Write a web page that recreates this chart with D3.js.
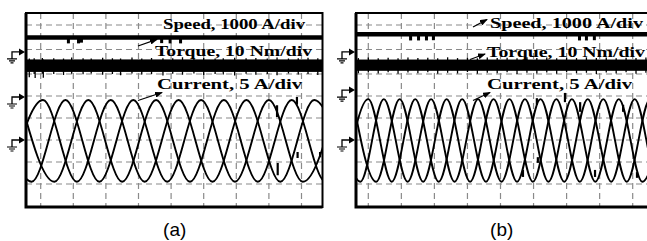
<!DOCTYPE html>
<html>
<head>
<meta charset="utf-8">
<script src="https://cdn.jsdelivr.net/npm/d3@7"></script>
<style>
  body { margin: 0; background: #fff; }
</style>
</head>
<body>
<div id="chart"></div>
<script>
// ---- data read off the two scope shots ----
// grid divisions
var gridCols = [0, 1, 2, 3, 4, 5, 6, 7, 8];
var gridRows = [-2, -1, 0, 1, 2, 3, 4, 5];
var traceLabels = ["Speed, 1000 A/div", "Torque, 10 Nm/div", "Current, 5 A/div"];
var captions = ["(a)", "(b)"];

// speed level (rpm above its ground) and short dips [t(div), rpm]
var speedA = 590;
var speedB = 720;
var speedDipsA = [[0.85, 350], [1.16, 350], [1.25, 380], [3.71, 360], [3.97, 350], [4.29, 350]];
var speedDipsB = [[1.28, 470], [1.52, 470], [1.76, 470], [1.97, 480], [6.39, 470], [6.60, 470], [6.84, 480]];

// torque band (Nm): [low, high] and spikes [t, low, high]
var torqueBandA = [11.3, 16.4];
var torqueBandB = [8.6, 13.2];
var torqueSpikesA = [[-0.35, 9.0, 16.8], [-0.2, 10.4, 16.9], [-0.17, 8.6, 16.2], [0.05, 10.6, 17.0], [0.08, 8.8, 16.4],
  [0.4, 10.4, 16.9], [0.7, 10.0, 16.8], [0.95, 10.6, 17.2], [1.3, 10.3, 16.9], [1.55, 10.7, 16.8],
  [1.9, 10.1, 17.1], [2.2, 10.5, 16.9], [2.45, 9.9, 16.8], [2.8, 10.7, 17.2], [3.1, 10.2, 16.8],
  [3.4, 10.4, 17.0], [3.75, 9.8, 16.9], [4.05, 10.6, 16.9], [4.35, 10.1, 17.3], [4.7, 10.7, 16.8],
  [5.0, 10.0, 17.0], [5.35, 10.5, 16.8], [5.6, 10.2, 16.9], [5.95, 9.8, 17.1], [6.3, 10.6, 16.9],
  [6.6, 10.1, 17.0], [6.95, 10.4, 16.8], [7.25, 9.9, 17.2], [7.6, 10.7, 16.8], [7.9, 10.2, 16.9],
  [8.2, 10.5, 17.1], [8.5, 10.0, 16.9]];
var torqueSpikesB = [[-0.3, 7.6, 13.8], [0.0, 7.9, 14.0], [0.3, 7.5, 13.7], [0.6, 8.0, 13.9], [0.9, 7.4, 13.7],
  [1.2, 7.9, 14.0], [1.5, 7.6, 13.8], [1.8, 8.0, 13.9], [2.1, 7.4, 13.7], [2.4, 7.8, 14.1],
  [2.7, 7.5, 13.8], [3.0, 8.1, 13.9], [3.3, 7.4, 13.7], [3.6, 7.8, 14.0], [3.9, 7.6, 13.8],
  [4.2, 8.0, 13.9], [4.5, 7.3, 13.7], [4.8, 7.8, 14.1], [5.1, 7.5, 13.8], [5.4, 7.9, 14.0],
  [5.7, 7.4, 13.7], [6.0, 8.0, 13.9], [6.3, 7.6, 13.8], [6.6, 7.8, 14.1], [6.9, 7.3, 13.8],
  [7.2, 7.9, 14.0], [7.5, 7.5, 13.7], [7.8, 8.0, 13.9], [8.1, 7.4, 13.8], [8.4, 7.8, 14.0]];

// phase currents (A): extrema [t(div), i]
var curA1 = [[-0.97, -9.5], [0.07, 9.1], [1.11, -9.5], [2.15, 9.1], [3.19, -9.5], [4.23, 9.1],
  [5.27, -9.5], [6.31, 9.1], [7.35, -9.5], [8.39, 9.1], [9.43, -9.5]];
var curA2 = [[-1.32, 9.1], [-0.28, -9.5], [0.76, 9.1], [1.80, -9.5], [2.84, 9.1], [3.88, -9.5],
  [4.92, 9.1], [5.96, -9.5], [7.00, 9.1], [8.04, -9.5], [9.08, 9.1]];
var curA3 = [[-0.62, 9.1], [0.42, -9.5], [1.46, 9.1], [2.50, -9.5], [3.54, 9.1], [4.58, -9.5],
  [5.62, 9.1], [6.66, -9.5], [7.70, 9.1], [8.74, -9.5], [9.78, 9.1]];
var curB1 = [[-0.71, -9.5], [0.00, 9.3], [0.71, -9.5], [1.42, 9.3], [2.13, -9.5], [2.84, 9.3],
  [3.56, -9.5], [4.27, 9.3], [4.98, -9.5], [5.69, 9.3], [6.40, -9.5], [7.11, 9.3], [7.82, -9.5],
  [8.53, 9.3], [9.24, -9.5]];
var curB2 = [[-0.95, 9.3], [-0.24, -9.5], [0.47, 9.3], [1.19, -9.5], [1.90, 9.3], [2.61, -9.5],
  [3.32, 9.3], [4.03, -9.5], [4.74, 9.3], [5.45, -9.5], [6.16, 9.3], [6.87, -9.5], [7.58, 9.3],
  [8.29, -9.5], [9.00, 9.3]];
var curB3 = [[-0.47, 9.3], [0.24, -9.5], [0.95, 9.3], [1.66, -9.5], [2.37, 9.3], [3.08, -9.5],
  [3.79, 9.3], [4.50, -9.5], [5.21, 9.3], [5.93, -9.5], [6.64, 9.3], [7.35, -9.5], [8.06, 9.3],
  [8.77, -9.5], [9.48, 9.3]];
// glitches on the currents [t, i0, i1]
var curSpikesA = [[7.25, 7.9, 5.2], [7.27, -5.2, -8.0], [7.86, 9.8, 8.0], [7.88, -2.7, -4.1], [8.57, -2.7, -3.9]];
var curSpikesB = [[4.68, -6.8, -8.4], [5.10, 9.5, 8.0], [5.13, -3.9, -5.2], [5.95, 10.7, 8.6],
  [6.41, 8.6, 6.4], [6.86, -6.8, -8.4], [7.71, 8.0, 6.4], [8.13, -7.3, -8.6]];

// ---- layout ----
var W = 647, H = 241;
var frameTop = 13, frameBottom = 207;
var panels = [
  { left: 26, right: 322.5, x0: 40.7, x8: 301.5, grounds: [3.9, 1.955, 0],
    speed: speedA, dips: speedDipsA, band: torqueBandA, spikes: torqueSpikesA,
    cur: [curA1, curA2, curA3], glitch: curSpikesA, markX: 25,
    labels: [[163, 28.5, 142], [155, 56.3, 157], [157, 88.5, 145]],
    arrows: [[138, 46, 157, 39.3], [138, 100.5, 162, 92.5]], cap: 174.7 },
  { left: 356, right: 660, x0: 368.3, x8: 632.7, grounds: [3.9, 2.27, 0],
    speed: speedB, dips: speedDipsB, band: torqueBandB, spikes: torqueSpikesB,
    cur: [curB1, curB2, curB3], glitch: curSpikesB, markX: 355,
    labels: [[490, 28, 153], [487, 56.7, 158], [487, 89, 145]],
    arrows: [[473, 27, 487, 19.5], [470, 59.5, 485, 54], [473, 100.5, 490, 92.5]], cap: 501.7 }
];

// vertical scale in divisions (picture is squeezed unevenly)
var y = d3.scaleLinear().domain([-3, 2, 3, 5]).range([206, 96, 74, 25]);

var svg = d3.select("#chart").append("svg")
  .attr("width", W)
  .attr("height", H);

svg.append("defs").append("marker")
  .attr("id", "head")
  .attr("markerUnits", "userSpaceOnUse")
  .attr("markerWidth", 8).attr("markerHeight", 6)
  .attr("refX", 7).attr("refY", 3)
  .attr("orient", "auto")
  .append("path").attr("d", "M0,0L8,3L0,6z").attr("fill", "#000");

panels.forEach(function(p, pi) {
  var x = d3.scaleLinear().domain([0, 8]).range([p.x0, p.x8]);
  var g = svg.append("g");

  g.append("clipPath").attr("id", "clip" + pi)
    .append("rect")
    .attr("x", p.left + 1).attr("y", frameTop + 1)
    .attr("width", p.right - p.left - 1).attr("height", frameBottom - frameTop - 2);

  // grid
  g.selectAll(".vg").data(gridCols).enter().append("line")
    .attr("x1", d => x(d)).attr("x2", d => x(d))
    .attr("y1", frameTop).attr("y2", frameBottom)
    .attr("stroke", "#8a8a8a").attr("stroke-width", 1.2)
    .attr("stroke-dasharray", "6,4");
  g.selectAll(".hg").data(gridRows).enter().append("line")
    .attr("x1", p.left).attr("x2", p.right)
    .attr("y1", d => y(d)).attr("y2", d => y(d))
    .attr("stroke", "#8a8a8a").attr("stroke-width", 1.2)
    .attr("stroke-dasharray", "6,4");

  var traces = g.append("g").attr("clip-path", "url(#clip" + pi + ")");

  // speed
  var sp = p.grounds[0];
  traces.append("line")
    .attr("x1", p.left).attr("x2", p.right)
    .attr("y1", y(sp + p.speed / 1000)).attr("y2", y(sp + p.speed / 1000))
    .attr("stroke", "#000").attr("stroke-width", 4.4);
  traces.selectAll(".dip").data(p.dips).enter().append("rect")
    .attr("x", d => x(d[0]) - 1.5).attr("width", 3)
    .attr("y", y(sp + p.speed / 1000))
    .attr("height", d => y(sp + d[1] / 1000) - y(sp + p.speed / 1000))
    .attr("fill", "#000");

  // torque
  var tq = p.grounds[1];
  traces.append("rect")
    .attr("x", p.left).attr("width", p.right - p.left)
    .attr("y", y(tq + p.band[1] / 10))
    .attr("height", y(tq + p.band[0] / 10) - y(tq + p.band[1] / 10))
    .attr("fill", "#000");
  traces.selectAll(".spk").data(p.spikes).enter().append("line")
    .attr("x1", d => x(d[0])).attr("x2", d => x(d[0]))
    .attr("y1", d => y(tq + d[1] / 10)).attr("y2", d => y(tq + d[2] / 10))
    .attr("stroke", "#000").attr("stroke-width", 1.3);

  // currents
  var cg = p.grounds[2];
  var line = d3.line()
    .x(d => x(d[0]))
    .y(d => y(cg + d[1] / 5))
    .curve(d3.curveMonotoneX);
  traces.selectAll(".cur").data(p.cur).enter().append("path")
    .attr("d", line)
    .attr("fill", "none").attr("stroke", "#000").attr("stroke-width", 1.9);
  traces.selectAll(".gl").data(p.glitch).enter().append("line")
    .attr("x1", d => x(d[0])).attr("x2", d => x(d[0]))
    .attr("y1", d => y(cg + d[1] / 5)).attr("y2", d => y(cg + d[2] / 5))
    .attr("stroke", "#000").attr("stroke-width", 2.2);

  // frame
  g.append("rect")
    .attr("x", p.left).attr("y", frameTop)
    .attr("width", p.right - p.left).attr("height", frameBottom - frameTop)
    .attr("fill", "none").attr("stroke", "#000").attr("stroke-width", 2);
  g.append("path")
    .attr("d", "M" + p.left + "," + frameTop + "V" + frameBottom + "H" + p.right)
    .attr("fill", "none").attr("stroke", "#000").attr("stroke-width", 3);

  // ground markers
  p.grounds.forEach(function(gd) {
    var my = y(gd), mx = p.markX;
    g.append("path")
      .attr("d", "M" + (mx - 13) + "," + (my + 7) + "V" + my + "H" + (mx - 5))
      .attr("fill", "none").attr("stroke", "#000").attr("stroke-width", 1.3);
    g.append("path")
      .attr("d", "M" + (mx - 6) + "," + (my - 3.5) + "L" + mx + "," + my + "L" + (mx - 6) + "," + (my + 3.5) + "z")
      .attr("fill", "#000");
    g.append("path")
      .attr("d", "M" + (mx - 18) + "," + (my + 7) + "H" + (mx - 8) +
                 "M" + (mx - 16) + "," + (my + 9) + "H" + (mx - 10) +
                 "M" + (mx - 14.5) + "," + (my + 11) + "H" + (mx - 11.5))
      .attr("fill", "none").attr("stroke", "#000").attr("stroke-width", 1.2);
  });

  // trace labels
  g.selectAll(".lbl").data(traceLabels).enter().append("text")
    .attr("x", (d, i) => p.labels[i][0])
    .attr("y", (d, i) => p.labels[i][1])
    .attr("textLength", (d, i) => p.labels[i][2])
    .attr("lengthAdjust", "spacingAndGlyphs")
    .attr("font-family", "Liberation Serif, Times New Roman, serif")
    .attr("font-weight", "bold")
    .attr("font-size", 15.5)
    .text(d => d);

  // arrows
  g.selectAll(".arr").data(p.arrows).enter().append("line")
    .attr("x1", d => d[0]).attr("y1", d => d[1])
    .attr("x2", d => d[2]).attr("y2", d => d[3])
    .attr("stroke", "#000").attr("stroke-width", 1.3)
    .attr("marker-end", "url(#head)");

  // caption
  g.append("text")
    .attr("x", p.cap).attr("y", 236)
    .attr("text-anchor", "middle")
    .attr("font-family", "Liberation Sans, Arial, sans-serif")
    .attr("font-size", 19)
    .text(captions[pi]);
});
</script>
</body>
</html>
